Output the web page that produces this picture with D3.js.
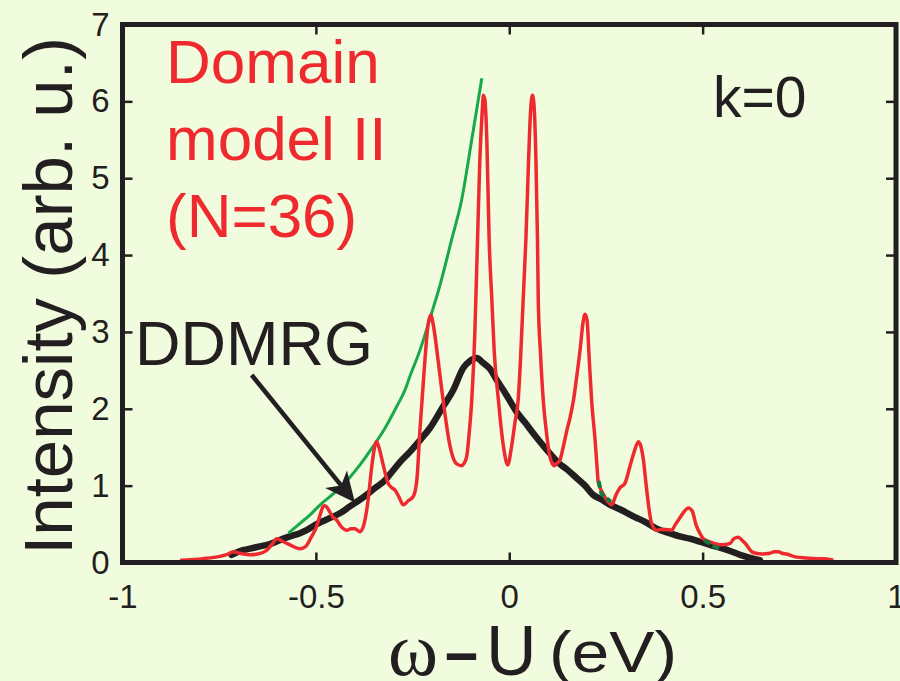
<!DOCTYPE html>
<html>
<head>
<meta charset="utf-8">
<script src="https://cdn.jsdelivr.net/npm/d3@7"></script>
<style>
  html, body { margin: 0; padding: 0; background: #f1fcde; }
  svg { display: block; }
  text { font-family: "Liberation Sans", Arial, Helvetica, sans-serif; }
</style>
</head>
<body>
<svg id="chart" width="900" height="681"></svg>
<script>
// Spectral intensity at k=0: domain model II (N=36) vs DDMRG, with exponential fit
const xTicks = [-1, -0.5, 0, 0.5, 1];
const xTickLabels = ["-1", "-0.5", "0", "0.5", "1"];
const yTicks = [0, 1, 2, 3, 4, 5, 6, 7];

// Domain model II (N=36): [omega - U (eV), intensity]
const domainModel = [
  [-0.851,0.03],[-0.792,0.05],[-0.748,0.08],[-0.727,0.11],[-0.714,0.14],[-0.696,0.12],
  [-0.670,0.10],[-0.650,0.11],[-0.627,0.16],[-0.613,0.24],[-0.601,0.31],[-0.588,0.28],
  [-0.567,0.23],[-0.541,0.18],[-0.526,0.21],[-0.513,0.32],[-0.498,0.47],[-0.489,0.62],
  [-0.481,0.73],[-0.476,0.74],[-0.469,0.70],[-0.456,0.59],[-0.446,0.55],[-0.435,0.47],
  [-0.420,0.42],[-0.409,0.44],[-0.399,0.44],[-0.386,0.40],[-0.376,0.49],[-0.365,0.81],
  [-0.355,1.27],[-0.347,1.53],[-0.343,1.57],[-0.337,1.50],[-0.326,1.27],[-0.313,1.03],
  [-0.303,0.97],[-0.295,0.94],[-0.285,0.85],[-0.274,0.75],[-0.262,0.80],[-0.248,0.86],
  [-0.239,1.07],[-0.231,1.72],[-0.220,2.50],[-0.210,3.09],[-0.203,3.22],[-0.195,3.05],
  [-0.184,2.63],[-0.171,2.11],[-0.153,1.51],[-0.145,1.36],[-0.135,1.28],[-0.123,1.26],
  [-0.117,1.29],[-0.110,1.38],[-0.104,1.66],[-0.097,2.11],[-0.089,2.99],[-0.082,4.20],
  [-0.076,5.24],[-0.070,5.86],[-0.067,6.08],[-0.063,6.02],[-0.058,5.50],[-0.052,4.20],
  [-0.045,3.42],[-0.039,2.76],[-0.028,2.11],[-0.015,1.51],[-0.004,1.27],[0.006,1.51],
  [0.015,1.83],[0.023,2.11],[0.029,2.63],[0.036,3.42],[0.043,4.20],[0.050,5.24],
  [0.055,5.86],[0.060,6.08],[0.064,5.95],[0.069,5.24],[0.073,4.20],[0.075,3.42],
  [0.081,2.70],[0.088,2.11],[0.096,1.70],[0.105,1.38],[0.116,1.26],[0.123,1.29],
  [0.131,1.33],[0.139,1.49],[0.149,1.72],[0.157,1.88],[0.166,2.11],[0.175,2.44],
  [0.183,2.76],[0.191,3.13],[0.196,3.23],[0.201,3.16],[0.207,2.63],[0.213,2.11],
  [0.222,1.59],[0.227,1.24],[0.230,1.05],[0.240,0.92],[0.250,0.83],[0.265,0.75],
  [0.276,0.88],[0.286,0.97],[0.299,1.03],[0.312,1.25],[0.323,1.44],[0.334,1.57],
  [0.341,1.50],[0.347,1.33],[0.354,1.01],[0.360,0.75],[0.368,0.51],[0.381,0.42],
  [0.392,0.43],[0.403,0.43],[0.420,0.42],[0.429,0.49],[0.437,0.55],[0.449,0.64],
  [0.463,0.71],[0.473,0.67],[0.483,0.49],[0.493,0.38],[0.502,0.31],[0.519,0.27],
  [0.535,0.24],[0.549,0.23],[0.571,0.25],[0.581,0.31],[0.592,0.33],[0.602,0.29],
  [0.610,0.25],[0.627,0.14],[0.638,0.12],[0.653,0.11],[0.674,0.12],[0.685,0.14],
  [0.696,0.14],[0.705,0.12],[0.717,0.11],[0.743,0.07],[0.767,0.06],[0.795,0.05],
  [0.816,0.05],[0.838,0.03]
];

// DDMRG spectrum
const ddmrg = [
  [-0.718,0.10],[-0.696,0.15],[-0.670,0.18],[-0.645,0.21],[-0.619,0.24],[-0.584,0.31],
  [-0.567,0.34],[-0.541,0.38],[-0.524,0.42],[-0.498,0.50],[-0.463,0.58],[-0.438,0.64],
  [-0.412,0.73],[-0.391,0.80],[-0.369,0.88],[-0.347,0.97],[-0.321,1.07],[-0.300,1.20],
  [-0.282,1.31],[-0.257,1.44],[-0.231,1.59],[-0.205,1.75],[-0.171,2.03],[-0.145,2.24],
  [-0.119,2.53],[-0.102,2.62],[-0.084,2.66],[-0.068,2.60],[-0.050,2.52],[-0.032,2.37],
  [-0.011,2.21],[0.019,1.96],[0.041,1.82],[0.067,1.65],[0.105,1.42],[0.131,1.28],
  [0.147,1.22],[0.174,1.10],[0.196,1.00],[0.217,0.88],[0.235,0.83],[0.261,0.75],
  [0.291,0.68],[0.325,0.59],[0.351,0.53],[0.381,0.44],[0.416,0.38],[0.441,0.34],
  [0.467,0.31],[0.493,0.27],[0.519,0.23],[0.553,0.18],[0.571,0.15],[0.597,0.10],
  [0.623,0.06],[0.648,0.03]
];

// Exponential envelope on the low-energy side
const envelopeLeft = [
  [-0.571,0.38],[-0.541,0.51],[-0.515,0.62],[-0.489,0.75],[-0.463,0.86],[-0.438,0.97],
  [-0.412,1.11],[-0.386,1.27],[-0.352,1.51],[-0.321,1.75],[-0.291,2.03],[-0.270,2.24],
  [-0.257,2.42],[-0.231,2.76],[-0.201,3.24],[-0.179,3.61],[-0.149,4.20],[-0.123,4.72],
  [-0.097,5.50],[-0.071,6.30]
];

// Envelope on the high-energy side (dashed pieces, null = gap)
const envelopeRight = [
  [0.231,1.06],[0.235,0.97],[0.239,0.89],[0.246,0.86],[0.256,0.82],[0.263,0.79],
  null,
  [0.504,0.29],[0.517,0.25],[0.529,0.21],[0.545,0.18]
];

const W = 900, H = 681;
const svg = d3.select("#chart");
svg.append("rect").attr("width", W).attr("height", H).attr("fill", "#f1fcde");

const plotL = 122.5, plotR = 896, plotT = 24.5, plotB = 562.5;
const x = d3.scaleLinear().domain([-1, 1]).range([plotL, plotR]);
const y = d3.scaleLinear().domain([0, 7]).range([plotB, plotT]);

const ink = "#231f20";
const red = "#ee2a2e";
const green = "#19a84a";

// Axes with inward ticks
const gx = svg.append("g").attr("transform", `translate(0,${plotB})`)
  .call(d3.axisBottom(x).tickValues(xTicks)
    .tickFormat((d, i) => xTickLabels[i])
    .tickSizeInner(-10).tickSizeOuter(0).tickPadding(22));
const gy = svg.append("g").attr("transform", `translate(${plotL},0)`)
  .call(d3.axisLeft(y).tickValues(yTicks).tickFormat(d3.format("d"))
    .tickSizeInner(-10).tickSizeOuter(0).tickPadding(13));
const gt = svg.append("g").attr("transform", `translate(0,${plotT})`)
  .call(d3.axisTop(x).tickValues(xTicks).tickFormat("")
    .tickSizeInner(-10).tickSizeOuter(0));
const gr = svg.append("g").attr("transform", `translate(${plotR},0)`)
  .call(d3.axisRight(y).tickValues(yTicks).tickFormat("")
    .tickSizeInner(-10).tickSizeOuter(0));

[gx, gy, gt, gr].forEach(g => {
  g.select(".domain").remove();
  g.selectAll(".tick line").attr("stroke", ink).attr("stroke-width", 2.5);
  g.selectAll(".tick text").attr("fill", ink)
    .style("font-family", '"Liberation Sans", Arial, sans-serif')
    .style("font-size", "33px");
});

// Curves
const line = d3.line()
  .defined(d => d !== null)
  .x(d => x(d[0])).y(d => y(d[1]))
  .curve(d3.curveMonotoneX);

svg.append("path").datum(ddmrg)
  .attr("fill", "none").attr("stroke", ink).attr("stroke-width", 6.5)
  .attr("stroke-linejoin", "round").attr("stroke-linecap", "round")
  .attr("d", line);

svg.append("path").datum(envelopeLeft)
  .attr("fill", "none").attr("stroke", green).attr("stroke-width", 3)
  .attr("d", line);

svg.append("path").datum(domainModel)
  .attr("fill", "none").attr("stroke", red).attr("stroke-width", 3.5)
  .attr("stroke-linejoin", "round")
  .attr("d", line);

svg.append("path").datum(envelopeRight)
  .attr("fill", "none").attr("stroke", "#157a3d").attr("stroke-width", 4)
  .attr("stroke-dasharray", "7,3")
  .attr("d", line);

// Frame
svg.append("rect")
  .attr("x", plotL).attr("y", plotT)
  .attr("width", plotR - plotL).attr("height", plotB - plotT)
  .attr("fill", "none").attr("stroke", ink).attr("stroke-width", 5);

// Curve labels
const domainLines = ["Domain", "model II", "(N=36)"];
svg.append("g").selectAll("text").data(domainLines).join("text")
  .attr("x", 166).attr("y", (d, i) => 83 + i * 77)
  .attr("fill", red).style("font-size", "62px")
  .text(d => d);

svg.append("text").attr("x", 713).attr("y", 117)
  .attr("fill", ink).style("font-size", "57px").text("k=0");

svg.append("text").attr("x", 135).attr("y", 365)
  .attr("fill", ink).style("font-size", "63px").text("DDMRG");

// Arrow pointing at the DDMRG curve
const arrowFrom = [-0.666, 2.44], arrowTo = [-0.399, 0.78];
const ax0 = x(arrowFrom[0]), ay0 = y(arrowFrom[1]);
const ax1 = x(arrowTo[0]), ay1 = y(arrowTo[1]);
const ang = Math.atan2(ay1 - ay0, ax1 - ax0);
const headLen = 30, headHalf = 14, notch = 22;
const ux = Math.cos(ang), uy = Math.sin(ang);
const nx = -uy, ny = ux;
svg.append("line")
  .attr("x1", ax0).attr("y1", ay0)
  .attr("x2", ax1 - ux * notch).attr("y2", ay1 - uy * notch)
  .attr("stroke", ink).attr("stroke-width", 4.5);
svg.append("path")
  .attr("d", `M${ax1},${ay1}
    L${ax1 - ux * headLen + nx * headHalf},${ay1 - uy * headLen + ny * headHalf}
    L${ax1 - ux * notch},${ay1 - uy * notch}
    L${ax1 - ux * headLen - nx * headHalf},${ay1 - uy * headLen - ny * headHalf}Z`)
  .attr("fill", ink);

// Axis titles
svg.append("text")
  .attr("transform", "translate(72,296) rotate(-90)")
  .attr("text-anchor", "middle")
  .attr("fill", ink).style("font-size", "69px")
  .text("Intensity (arb. u.)");

const xt = svg.append("g");
xt.append("text").attr("x", 388).attr("y", 675).attr("fill", ink)
  .style("font-family", '"Liberation Serif", "Times New Roman", serif')
  .style("font-size", "76px").text("ω");
xt.append("text").attr("x", 445).attr("y", 675).attr("fill", ink)
  .attr("textLength", 33).attr("lengthAdjust", "spacingAndGlyphs")
  .style("font-size", "66px").style("font-weight", "bold").text("–");
xt.append("text").attr("x", 486).attr("y", 675).attr("fill", ink)
  .style("font-size", "70px").text("U");
xt.append("text").attr("x", 549).attr("y", 672).attr("fill", ink)
  .attr("textLength", 128).attr("lengthAdjust", "spacingAndGlyphs")
  .style("font-size", "58px").text("(eV)");
</script>
</body>
</html>
